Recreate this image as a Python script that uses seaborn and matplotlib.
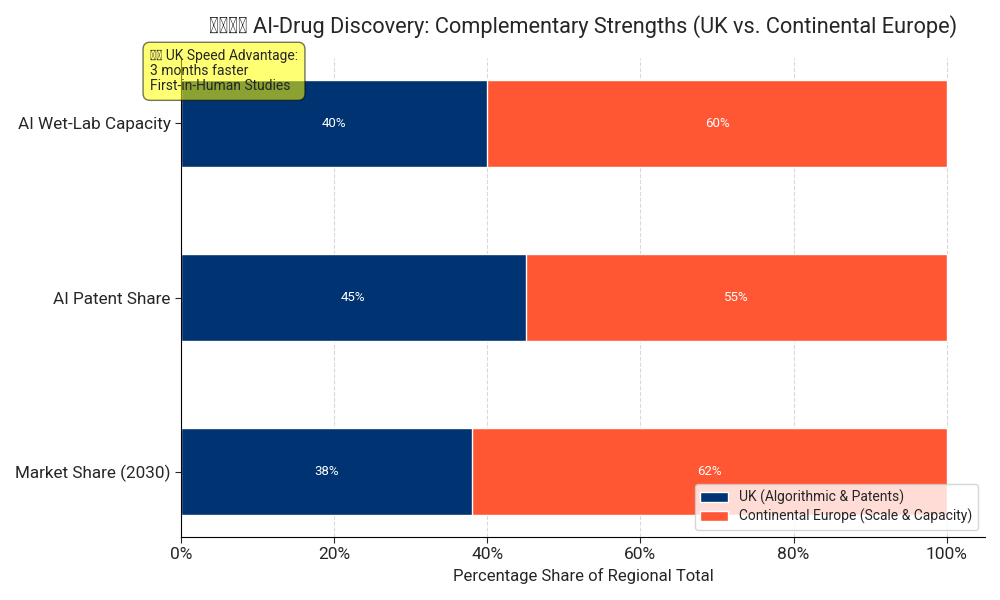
import pandas as pd
import matplotlib.pyplot as plt
import seaborn as sns

metrics = ['AI Wet-Lab Capacity', 'AI Patent Share', 'Market Share (2030)']
uk_share = [40, 45, 38]
eu_share = [60, 55, 62]

df = pd.DataFrame({'Metric': metrics, 'UK': uk_share, 'EU': eu_share})
df['Total'] = df['UK'] + df['EU']

sns.set_style('white')
plt.rcParams['font.family'] = ['Roboto', 'DejaVu Sans']

uk_color = '#003371'
eu_color = '#FF5733'

fig, ax = plt.subplots(figsize=(10, 6), dpi=100)

# stacked: draw total in EU colour, then UK on top
sns.barplot(data=df, y='Metric', x='Total', color=eu_color, width=0.5,
            label='Continental Europe (Scale & Capacity)', ax=ax, saturation=1)
sns.barplot(data=df, y='Metric', x='UK', color=uk_color, width=0.5,
            label='UK (Algorithmic & Patents)', ax=ax, saturation=1)

for i, row in df.iterrows():
    ax.text(row['UK'] / 2, i, f"{row['UK']}%", color='white', ha='center', va='center', fontsize=9.5)
    ax.text(row['UK'] + row['EU'] / 2, i, f"{row['EU']}%", color='white', ha='center', va='center', fontsize=9.5)

ax.set_xlim(0, 105)
ax.set_ylim(2.375, -0.375)
ax.set_xticks([0, 20, 40, 60, 80, 100])
ax.set_xticklabels(['0%', '20%', '40%', '60%', '80%', '100%'], fontsize=12.5)
ax.tick_params(axis='y', labelsize=12.3, left=True, length=4)
ax.tick_params(axis='x', bottom=True, length=4)
ax.set_ylabel('')
ax.set_xlabel('Percentage Share of Regional Total', fontsize=12)
ax.xaxis.grid(True, linestyle='--', color='gray', alpha=0.3)
ax.set_axisbelow(True)
sns.despine(ax=ax)
for s in ['left', 'bottom']:
    ax.spines[s].set_color('black')

ax.set_title('\U0001F1EC\U0001F1E7\U0001F1EA\U0001F1FA AI-Drug Discovery: Complementary Strengths (UK vs. Continental Europe)',
             fontsize=15.7, pad=18)

handles, labels = ax.get_legend_handles_labels()
ax.legend(handles[::-1], labels[::-1], loc='lower right', fontsize=10, framealpha=0.8,
          labelspacing=0.3)

fig.text(0.15, 0.918, '\U0001F1EC\U0001F1E7 UK Speed Advantage:\n3 months faster\nFirst-in-Human Studies',
         fontsize=10, va='top', ha='left', linespacing=1.1,
         bbox=dict(boxstyle='round,pad=0.5', facecolor='yellow', alpha=0.55, edgecolor='black'))

plt.subplots_adjust(left=0.181, right=0.985, top=0.903, bottom=0.105)
plt.savefig('out.png')
